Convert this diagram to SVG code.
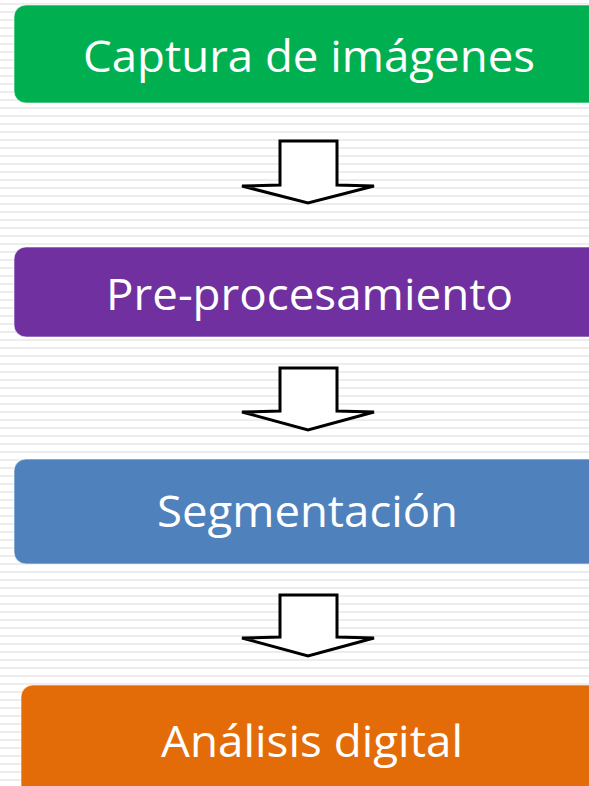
<svg xmlns="http://www.w3.org/2000/svg" width="589" height="786" viewBox="0 0 589 786">
<defs>
<pattern id="stripes" x="0" y="0" width="589" height="8" patternUnits="userSpaceOnUse">
<rect x="0" y="3" width="589" height="2" fill="#ededed"/>
</pattern>
</defs>
<style>
.box{stroke:#ffffff;stroke-opacity:0.6;stroke-width:1}
.lbl{font-family:"Open Sans","Noto Sans",sans-serif;font-size:43px;fill:#ffffff}
.arrow{fill:#ffffff;stroke:#000000;stroke-width:3;stroke-linejoin:miter}
</style>
<rect width="589" height="786" fill="#ffffff"/>
<rect width="589" height="786" fill="url(#stripes)"/>
<g id="connectors">
<polygon class="arrow" points="280,141 337,141 337,185 374,186 308,203 242,186 280,185"/>
<polygon class="arrow" points="280,368 337,368 337,411 374,412 308,430 242,412 280,411"/>
<polygon class="arrow" points="280,595 337,595 337,637 374,638 308,656 242,638 280,637"/>
</g>
<g id="node1">
<rect class="box" x="14" y="5" width="590" height="98" rx="12" fill="#00B050"/>
<text class="lbl" x="83" y="72" textLength="452" lengthAdjust="spacingAndGlyphs">Captura de imágenes</text>
</g>
<g id="node2">
<rect class="box" x="14" y="247" width="590" height="90" rx="12" fill="#7030A0"/>
<text class="lbl" x="106" y="310" textLength="407" lengthAdjust="spacingAndGlyphs">Pre-procesamiento</text>
</g>
<g id="node3">
<rect class="box" x="14" y="459" width="590" height="105" rx="12" fill="#4F81BD"/>
<text class="lbl" x="157" y="527" textLength="301" lengthAdjust="spacingAndGlyphs">Segmentación</text>
</g>
<g id="node4">
<rect class="box" x="21" y="685" width="590" height="120" rx="12" fill="#E36C09"/>
<text class="lbl" x="161" y="757" textLength="302" lengthAdjust="spacingAndGlyphs">Análisis digital</text>
</g>
</svg>
